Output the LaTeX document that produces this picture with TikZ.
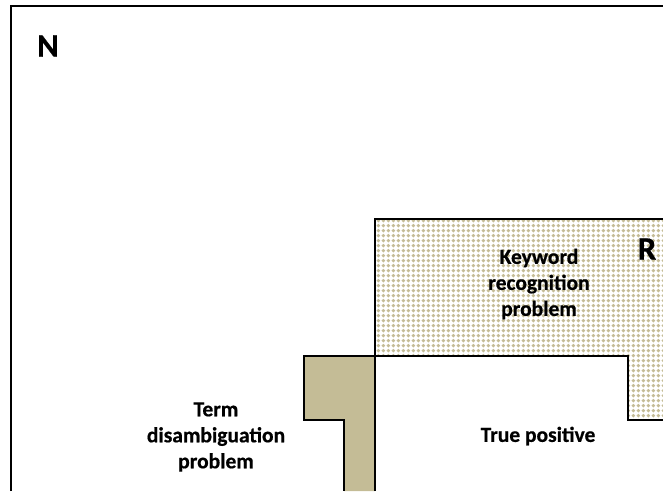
\documentclass[tikz,border=0pt]{standalone}
\usepackage{fontspec}
\setmainfont[BoldFeatures={FakeBold=0.6}]{Carlito}
\usetikzlibrary{patterns.meta}
\definecolor{tan}{HTML}{C4BC96}
\pgfdeclarepattern{name=tandots, type=uncolored,
  bottom left={\pgfpoint{0pt}{0pt}}, top right={\pgfpoint{5.3pt}{5.3pt}},
  tile size={\pgfpoint{5.3pt}{5.3pt}},
  code={\pgfpathcircle{\pgfpoint{2.65pt}{2.65pt}}{2.1pt}\pgfusepath{fill}}}
\tikzset{
  edge/.style={line width=2.8pt, line join=miter},
  label/.style={font=\bfseries\fontsize{21.5}{26}\selectfont, align=center},
  setname/.style={font=\bfseries\fontsize{33}{33}\selectfont}
}
\begin{document}
\begin{tikzpicture}[x=1pt, y=-1pt]
    \useasboundingbox (0,0) rectangle (663,491);
    \coordinate (n0) at (11,491);
    \coordinate (n1) at (11,6);
    \coordinate (n2) at (663,6);

    \coordinate (r0) at (375,356);
    \coordinate (r1) at (375,219);
    \coordinate (r2) at (663,219);
    \coordinate (r3) at (663,420);
    \coordinate (r4) at (628,420);
    \coordinate (r5) at (628,356);

    \coordinate (t0) at (304,356);
    \coordinate (t1) at (375,491);
    \coordinate (t2) at (344,491);
    \coordinate (t3) at (344,420);
    \coordinate (t4) at (304,420);

    % keyword recognition area, dotted
    \fill[pattern={tandots}, pattern color=tan] (r0)--(r1)--(r2)--(r3)--(r4)--(r5)--cycle;
    % term disambiguation area
    \fill[tan] (t0)--(r0)--(t1)--(t2)--(t3)--(t4)--cycle;

    \draw[edge] (n0)--(n1)--(n2);
    \draw[edge] (r2)--(r1)--(t1);
    \draw[edge] (r3)--(r4)--(r5)--(t0)--(t4)--(t3)--(t2);

    \node[setname] (N) at (48,46) {N};
    \node[setname] (R) at (647,249) {R};
    \node[label] (krp) at (539,284) {Keyword\\recognition\\problem};
    \node[label] (tdp) at (216,437) {Term\\disambiguation\\problem};
    \node[label] (tp) at (538,436) {True positive};
\end{tikzpicture}
\end{document}
